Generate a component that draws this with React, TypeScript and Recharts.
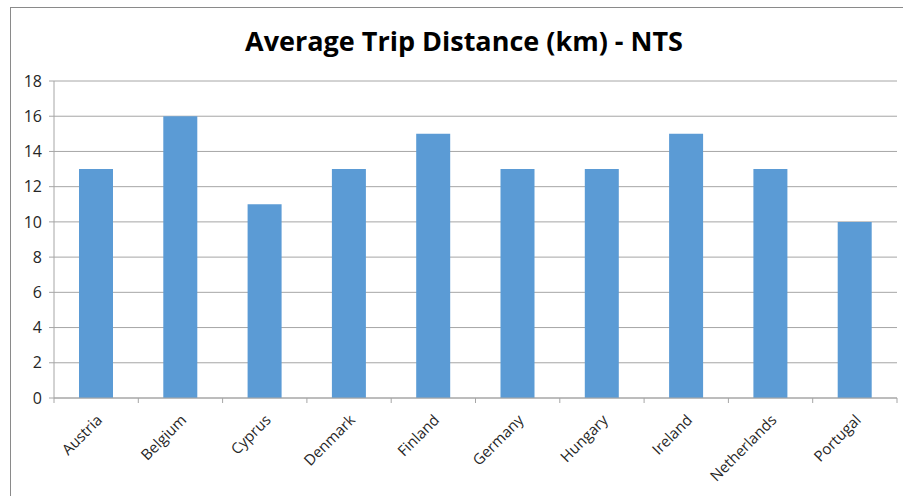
import React from 'react';
import { Bar, BarChart, CartesianGrid, XAxis, YAxis } from 'recharts';

const countries = ['Austria', 'Belgium', 'Cyprus', 'Denmark', 'Finland', 'Germany', 'Hungary', 'Ireland', 'Netherlands', 'Portugal'];
const distances = [13, 16, 11, 13, 15, 13, 13, 15, 13, 10];
const yTicks = [0, 2, 4, 6, 8, 10, 12, 14, 16, 18];

const data = countries.map((country, i) => ({ country, value: distances[i] }));

const font = '"Open Sans", "Liberation Sans", sans-serif';
const lineColor = '#a6a6a6';

// category label plus the little boundary tick marks between categories
function CountryTick(props: any) {
  const { x, y, payload, index, width, visibleTicksCount } = props;
  const count = visibleTicksCount || countries.length;
  const half = width / count / 2;
  const axisY = y - 8;
  return (
    <g>
      <line x1={x - half} x2={x - half} y1={axisY} y2={axisY + 5} stroke={lineColor} />
      {index === count - 1 && (
        <line x1={x + half} x2={x + half} y1={axisY} y2={axisY + 5} stroke={lineColor} />
      )}
      <text
        x={x + 7}
        y={y + 15}
        transform={`rotate(-45, ${x + 7}, ${y + 15})`}
        textAnchor="end"
        fontSize={15}
        fontFamily={font}
        fill="#262626"
      >
        {payload.value}
      </text>
    </g>
  );
}

export default function App() {
  return (
    <div style={{ position: 'absolute', left: 0, top: 0, width: 903, height: 496, background: '#fff', overflow: 'hidden' }}>
      <div style={{ position: 'absolute', left: 10, top: 7, width: 1000, height: 600, borderLeft: '1px solid #8a8a8a', borderTop: '1px solid #8a8a8a' }} />
      <div
        style={{
          position: 'absolute',
          left: 214,
          width: 500,
          top: 22,
          textAlign: 'center',
          fontFamily: font,
          fontWeight: 700,
          fontSize: 27,
          color: '#000',
          whiteSpace: 'nowrap',
        }}
      >
        Average Trip Distance (km) - NTS
      </div>
      <BarChart
        width={903}
        height={496}
        data={data}
        margin={{ top: 81, right: 6, bottom: 0, left: 0 }}
        style={{ position: 'absolute', left: 0, top: 0 }}
      >
        <CartesianGrid horizontal vertical={false} stroke={lineColor} />
        <XAxis
          dataKey="country"
          height={98}
          tickLine={false}
          axisLine={{ stroke: lineColor }}
          interval={0}
          tick={<CountryTick />}
        />
        <YAxis
          width={54}
          domain={[0, 18]}
          ticks={yTicks}
          interval={0}
          axisLine={{ stroke: lineColor }}
          tickLine={{ stroke: lineColor }}
          tickSize={5}
          tick={{ fontSize: 16, fontFamily: font, fill: '#262626' }}
          tickMargin={7}
        />
        <Bar dataKey="value" fill="#5b9bd5" barSize={34} isAnimationActive={false} />
      </BarChart>
    </div>
  );
}
